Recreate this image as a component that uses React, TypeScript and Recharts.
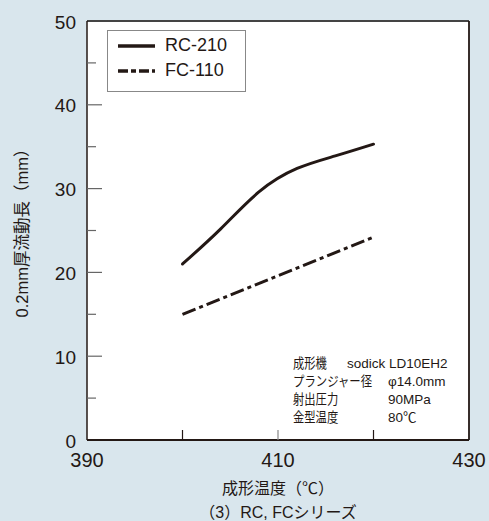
import { LineChart, Line, XAxis, YAxis, CartesianGrid, Legend, Label } from 'recharts';

const rcTemps = [400, 404, 408, 412, 416, 420];
const rcValues = [21, 25.2, 29.6, 32.4, 33.9, 35.3];
const fcTemps = [400, 420];
const fcValues = [15, 24.2];

const xTicks = [390, 400, 410, 420, 430];
const xLabels = [390, 410, 430];
const yTicks = [0, 5, 10, 15, 20, 25, 30, 35, 40, 45, 50];

const seriesNames = ['RC-210', 'FC-110'];
const noteKeys = ['成形機', 'プランジャー径', '射出圧力', '金型温度'];
const noteValues = ['sodick LD10EH2', 'φ14.0mm', '90MPa', '80℃'];

const rcData = rcTemps.map((t, i) => ({ temp: t, value: rcValues[i] }));
const fcData = fcTemps.map((t, i) => ({ temp: t, value: fcValues[i] }));

const INK = '#231815';
const FONT = "'Liberation Sans', 'Noto Sans CJK JP', sans-serif";
const DASH = '14 4 4 4';

function YTick(props: any) {
  const { x, y, payload } = props;
  const v = payload.value;
  const major = v % 10 === 0;
  return (
    <g>
      {v > 0 && v < 50 && (
        <line x1={x} x2={x + (major ? 15 : 9)} y1={y} y2={y} stroke="#666" strokeWidth={1.2} />
      )}
      {major && (
        <text x={x - 11} y={y + 1} textAnchor="end" dominantBaseline="central" fontSize={19} fill={INK} fontFamily={FONT}>
          {v}
        </text>
      )}
    </g>
  );
}

function XTick(props: any) {
  const { x, y, payload } = props;
  const v = payload.value;
  return (
    <g>
      {v > 390 && v < 430 && (
        <line x1={x} x2={x} y1={y} y2={y - 10} stroke={v === 410 ? '#888' : INK} strokeWidth={1.2} />
      )}
      {xLabels.includes(v) && (
        <text x={x} y={y + 27} textAnchor="middle" fontSize={20} fill={INK} fontFamily={FONT}>
          {v}
        </text>
      )}
    </g>
  );
}

function LegendBox() {
  return (
    <div
      style={{
        width: 139,
        height: 62,
        boxSizing: 'border-box',
        border: '1px solid #888',
        background: '#fff',
        fontFamily: FONT,
        fontSize: 18,
        color: INK,
        paddingTop: 2,
      }}
    >
      {seriesNames.map((name, i) => (
        <div key={name} style={{ display: 'flex', alignItems: 'center', height: 25, paddingLeft: 9 }}>
          <svg width={40} height={8} style={{ marginRight: 8 }}>
            <line x1={1} x2={38} y1={4} y2={4} stroke={INK} strokeWidth={3.5} strokeDasharray={i === 0 ? undefined : '10 3 5 3'} />
          </svg>
          <span>{name}</span>
        </div>
      ))}
    </div>
  );
}

export default function App() {
  return (
    <div style={{ position: 'fixed', left: 0, top: 0, width: 489, height: 521, background: '#d9e6ed' }}>
      <LineChart width={489} height={521} margin={{ top: 20, right: 19, bottom: 80, left: 86 }}>
        <CartesianGrid horizontal={false} vertical={false} fill="#fff" />
        <XAxis
          dataKey="temp"
          type="number"
          domain={[390, 430]}
          ticks={xTicks}
          interval={0}
          height={1}
          tickSize={0}
          tickMargin={0}
          tickLine={false}
          axisLine={{ stroke: INK, strokeWidth: 1.8 }}
          tick={XTick}
        >
          <Label
            content={() => (
              <g fontFamily={FONT} fill={INK} fontSize={16}>
                <text x={278} y={494} textAnchor="middle">成形温度（℃）</text>
                <text x={278} y={518} textAnchor="middle">（3）RC, FCシリーズ</text>
              </g>
            )}
          />
        </XAxis>
        <XAxis xAxisId="top" orientation="top" type="number" domain={[390, 430]} height={1} tick={false} tickLine={false} axisLine={{ stroke: '#444', strokeWidth: 1.8 }} />
        <YAxis
          type="number"
          domain={[0, 50]}
          ticks={yTicks}
          interval={0}
          width={1}
          tickSize={0}
          tickMargin={0}
          tickLine={false}
          axisLine={{ stroke: INK, strokeWidth: 1.5 }}
          tick={YTick}
        >
          <Label
            content={() => (
              <text x={22} y={229} transform="rotate(-90 22 229)" textAnchor="middle" dominantBaseline="central" fontFamily={FONT} fill={INK} fontSize={16.5}>
                0.2mm厚流動長（mm）
              </text>
            )}
          />
        </YAxis>
        <YAxis yAxisId="right" orientation="right" type="number" domain={[0, 50]} width={1} tick={false} tickLine={false} axisLine={{ stroke: INK, strokeWidth: 1.8 }} />
        <Legend
          layout="horizontal"
          verticalAlign="middle"
          align="center"
          wrapperStyle={{ left: 107, top: 30, width: 139, height: 62 }}
          content={() => <LegendBox />}
        />
        <Line
          data={rcData}
          dataKey="value"
          name={seriesNames[0]}
          type="natural"
          stroke={INK}
          strokeWidth={3}
          strokeLinecap="round"
          dot={false}
          isAnimationActive={false}
        />
        <Line
          data={fcData}
          dataKey="value"
          name={seriesNames[1]}
          type="linear"
          stroke={INK}
          strokeWidth={3}
          strokeDasharray={DASH}
          dot={false}
          isAnimationActive={false}
        />
      </LineChart>
      <svg width={489} height={521} style={{ position: 'absolute', left: 0, top: 0, pointerEvents: 'none' }}>
        <g fontFamily={FONT} fill={INK} fontSize={13.5}>
          {noteKeys.map((k, i) => (
            <text key={k} x={293} y={363 + i * 18.3} dominantBaseline="central" textLength={k.length * 11.3} lengthAdjust="spacingAndGlyphs">
              {k}
            </text>
          ))}
          {noteValues.map((v, i) => (
            <text key={v} x={i === 0 ? 347 : 388} y={363 + i * 18.3} dominantBaseline="central">
              {v}
            </text>
          ))}
        </g>
      </svg>
    </div>
  );
}
